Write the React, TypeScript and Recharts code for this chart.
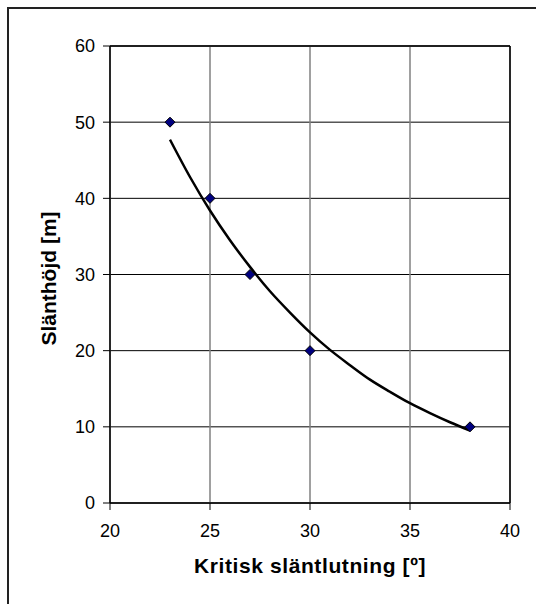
import React from "react";
import {
  ComposedChart,
  Line,
  Scatter,
  XAxis,
  YAxis,
  CartesianGrid,
  ReferenceLine,
} from "recharts";

const xTicks = [20, 25, 30, 35, 40];
const yTicks = [0, 10, 20, 30, 40, 50, 60];

const pointX = [23, 25, 27, 30, 38];
const pointY = [50, 40, 30, 20, 10];

const trendX = [23, 24, 25, 26, 27, 28, 29, 30, 31, 32, 33, 34, 35, 36, 37, 38];
const trendY = [47.7, 42.8, 38.4, 34.5, 31.0, 27.8, 25.0, 22.4, 20.1, 18.1, 16.2, 14.6, 13.1, 11.8, 10.6, 9.5];

const points = pointX.map((x, i) => ({ x, y: pointY[i] }));
const trend = trendX.map((x, i) => ({ x, y: trendY[i] }));

const FONT = "'Liberation Sans', Arial, sans-serif";

const Diamond = (props: any) => {
  const { cx, cy } = props;
  if (cx == null || cy == null) return null;
  const r = 5;
  return (
    <path
      d={`M${cx},${cy - r}L${cx + r},${cy}L${cx},${cy + r}L${cx - r},${cy}Z`}
      fill="#000080"
      stroke="#000"
      strokeWidth={1}
    />
  );
};

export default function App() {
  return (
    <div style={{ position: "absolute", left: 0, top: 0, width: 536, height: 604, background: "#fff", overflow: "hidden" }}>
      <div
        style={{
          position: "absolute",
          left: 7,
          top: 7,
          width: 600,
          height: 700,
          borderTop: "2px solid #222",
          borderLeft: "2px solid #222",
        }}
      />
      <div style={{ position: "absolute", left: 0, top: 0 }}>
        <ComposedChart
          width={536}
          height={604}
          margin={{ top: 46, right: 26, left: 0, bottom: 0 }}
          style={{ fontFamily: FONT }}
        >
          <CartesianGrid vertical={false} stroke="#000" strokeWidth={1} />
          <CartesianGrid horizontal={false} stroke="#808080" strokeWidth={1.5} />
          <XAxis
            type="number"
            dataKey="x"
            domain={[20, 40]}
            ticks={xTicks}
            allowDataOverflow
            height={101}
            tickSize={7}
            tickMargin={14}
            axisLine={{ stroke: "#000", strokeWidth: 1.5 }}
            tickLine={{ stroke: "#000" }}
            tick={{ fill: "#000", fontSize: 18, fontFamily: FONT }}
            label={{
              value: "Kritisk släntlutning [º]",
              position: "insideBottom",
              offset: 31,
              fill: "#000",
              fontSize: 21,
              fontWeight: "bold",
              fontFamily: FONT,
              letterSpacing: 0.6,
            }}
          />
          <YAxis
            type="number"
            dataKey="y"
            domain={[0, 60]}
            ticks={yTicks}
            allowDataOverflow
            width={110}
            tickSize={7}
            tickMargin={8}
            axisLine={{ stroke: "#000", strokeWidth: 1.5 }}
            tickLine={{ stroke: "#000" }}
            tick={{ fill: "#000", fontSize: 18, fontFamily: FONT }}
            label={{
              value: "Slänthöjd [m]",
              angle: -90,
              position: "insideLeft",
              offset: 0,
              dx: 49,
              dy: 4,
              fill: "#000",
              fontSize: 21,
              fontWeight: "bold",
              fontFamily: FONT,
              style: { textAnchor: "middle" },
            }}
          />
          <ReferenceLine y={60} stroke="#000" strokeWidth={1.5} ifOverflow="visible" />
          <ReferenceLine x={40} stroke="#000" strokeWidth={1.5} ifOverflow="visible" />
          <Line
            data={trend}
            dataKey="y"
            type="monotone"
            stroke="#000"
            strokeWidth={2.5}
            dot={false}
            activeDot={false}
            isAnimationActive={false}
          />
          <Scatter data={points} dataKey="y" shape={<Diamond />} isAnimationActive={false} />
        </ComposedChart>
      </div>
    </div>
  );
}
